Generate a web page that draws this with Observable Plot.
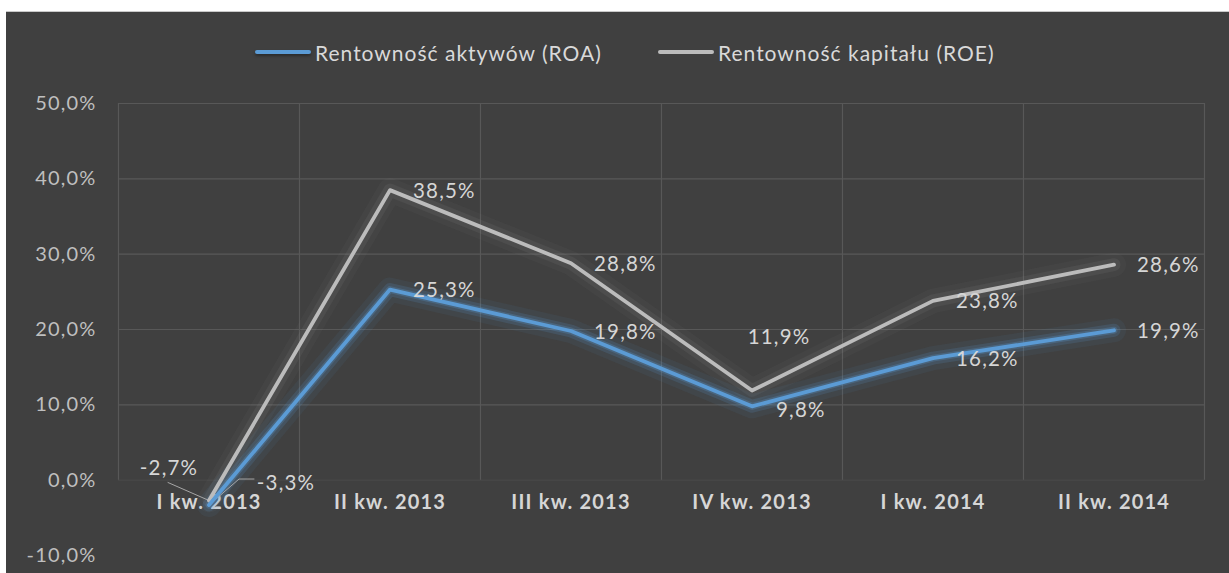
<!DOCTYPE html>
<html><head><meta charset="utf-8">
<script src="https://cdn.jsdelivr.net/npm/d3@7"></script>
<script src="https://cdn.jsdelivr.net/npm/@observablehq/plot@0.6"></script>
<style>
html,body{margin:0;padding:0;background:#fff;}
#chart{position:absolute;left:6px;top:11px;width:1223px;height:562px;background:#404040;border-top:1px solid #c9c9c9;box-sizing:border-box;overflow:hidden;font-family:Lato,sans-serif;}
#legend{position:absolute;left:0;top:0;width:1223px;height:78px;}
.item{position:absolute;top:27px;height:26px;display:flex;align-items:center;color:#d9d9d9;font-size:21px;letter-spacing:1px;white-space:nowrap;}
.sw{display:inline-block;width:56px;height:4px;margin-right:4px;border-radius:2px;}
#plot{position:absolute;left:0;top:78px;}
#plot svg text{letter-spacing:1.2px;}
</style></head>
<body><div id="chart"><div id="legend"></div><div id="plot"></div></div>
<script>
// ---- data ----
const categories = ["I kw. 2013", "II kw. 2013", "III kw. 2013", "IV kw. 2013", "I kw. 2014", "II kw. 2014"];
const roaValues = [-3.3, 25.3, 19.8, 9.8, 16.2, 19.9];
const roeValues = [-2.7, 38.5, 28.8, 11.9, 23.8, 28.6];
const seriesNames = ["Rentowność aktywów (ROA)", "Rentowność kapitału (ROE)"];
const yTickValues = [-10, 0, 10, 20, 30, 40, 50];

// ---- styling ----
const BLUE = "#5b9bd5", GREY = "#bcbcbc", GRID = "#585858", TXT = "#d6d6d6";
const W = 1223, H = 483, ML = 112, MR = 25, MT = 13, MB = 18;

const fmt = v => v.toFixed(1).replace(".", ",") + "%";
const rows = categories.flatMap((c, i) => [
  {i, s: "ROA", v: roaValues[i]},
  {i, s: "ROE", v: roeValues[i]}
]);
const roa = rows.filter(d => d.s === "ROA");
const roe = rows.filter(d => d.s === "ROE");
const boundaries = categories.map((c, i) => i - 0.5).concat([categories.length - 0.5]);

// linear mappings identical to the plot's scales, used to place leader lines
const sx = d3.scaleLinear([-0.5, categories.length - 0.5], [ML, W - MR]);
const sy = d3.scaleLinear([-10, 50], [H - MB, MT]);
const off = (i, v, dx, dy) => ({x: sx.invert(sx(i) + dx), y: sy.invert(sy(v) + dy)});
const leaderROE = [{x: 0, y: roeValues[0]}, off(0, roeValues[0], -41, -18)];
const leaderROA = [{x: 0, y: roaValues[0]}, off(0, roaValues[0], 30, -26), off(0, roaValues[0], 45, -26)];

const txt = {fontFamily: "Lato", fontSize: 20.5, fill: TXT};
const lbl = (data, o) => Plot.text(data, {x: "i", y: "v", text: d => fmt(d.v), ...txt, ...o});
const glow = (data, color, w, op) => Plot.line(data, {x: "i", y: "v", stroke: color, strokeWidth: w, strokeOpacity: op, strokeLinejoin: "round", strokeLinecap: "round"});

const chart = Plot.plot({
  width: W, height: H,
  marginLeft: ML, marginRight: MR, marginTop: MT, marginBottom: MB,
  style: {background: "transparent", fontFamily: "Lato"},
  x: {domain: [-0.5, categories.length - 0.5], axis: null},
  y: {domain: [-10, 50], axis: null},
  marks: [
    Plot.ruleY(yTickValues.filter(t => t > 0), {stroke: GRID, strokeWidth: 1.2}),
    Plot.ruleY([0], {stroke: "#4a4a4a", strokeWidth: 1}),
    Plot.ruleX(boundaries, {y1: 0, y2: 50, stroke: GRID, strokeWidth: 1.2}),
    // y tick labels
    Plot.text(yTickValues, {frameAnchor: "left", y: d => d, text: fmt, textAnchor: "end", dx: -22,
      fontFamily: "Lato", fontSize: 20, fill: "#bfbfbf"}),
    // category labels
    Plot.text(categories, {x: (d, i) => i, frameAnchor: "bottom", dy: -47, text: d => d,
      fontFamily: "Lato", fontSize: 20, fontWeight: "bold", fill: TXT}),
    // glows
    glow(roe, "#a0a0a0", 24, 0.05),
    glow(roe, "#a0a0a0", 13, 0.1),
    glow(roa, BLUE, 24, 0.07),
    glow(roa, BLUE, 13, 0.16),
    glow(roa, BLUE, 7, 0.25),
    // leader lines
    Plot.line(leaderROE, {x: "x", y: "y", stroke: "#a6a6a6", strokeWidth: 1}),
    Plot.line(leaderROA, {x: "x", y: "y", stroke: "#a6a6a6", strokeWidth: 1}),
    // series lines
    Plot.line(roe, {x: "i", y: "v", stroke: GREY, strokeWidth: 3.8, strokeLinejoin: "round", strokeLinecap: "round"}),
    Plot.line(roa, {x: "i", y: "v", stroke: BLUE, strokeWidth: 3.8, strokeLinejoin: "round", strokeLinecap: "round"}),
    // data labels
    lbl(rows.filter(d => d.i > 0 && d.i !== 3), {textAnchor: "start", dx: 23, dy: 1}),
    lbl(roa.filter(d => d.i === 3), {textAnchor: "start", dx: 24, dy: 4}),
    lbl(roe.filter(d => d.i === 3), {textAnchor: "middle", dx: 27, dy: -53}),
    lbl(roe.filter(d => d.i === 0), {textAnchor: "middle", dx: -40, dy: -32}),
    lbl(roa.filter(d => d.i === 0), {textAnchor: "middle", dx: 77, dy: -22})
  ]
});
document.getElementById("plot").appendChild(chart);

// legend
const legend = document.getElementById("legend");
const legendLeft = [249, 652];
[BLUE, GREY].forEach((c, k) => {
  const it = document.createElement("div");
  it.className = "item";
  it.style.left = legendLeft[k] + "px";
  const sw = document.createElement("span");
  sw.className = "sw"; sw.style.background = c;
  if (k === 0) sw.style.boxShadow = "0 2px 3px rgba(0,0,0,0.35)";
  it.appendChild(sw);
  it.appendChild(document.createTextNode(seriesNames[k]));
  legend.appendChild(it);
});
</script>
</body></html>
